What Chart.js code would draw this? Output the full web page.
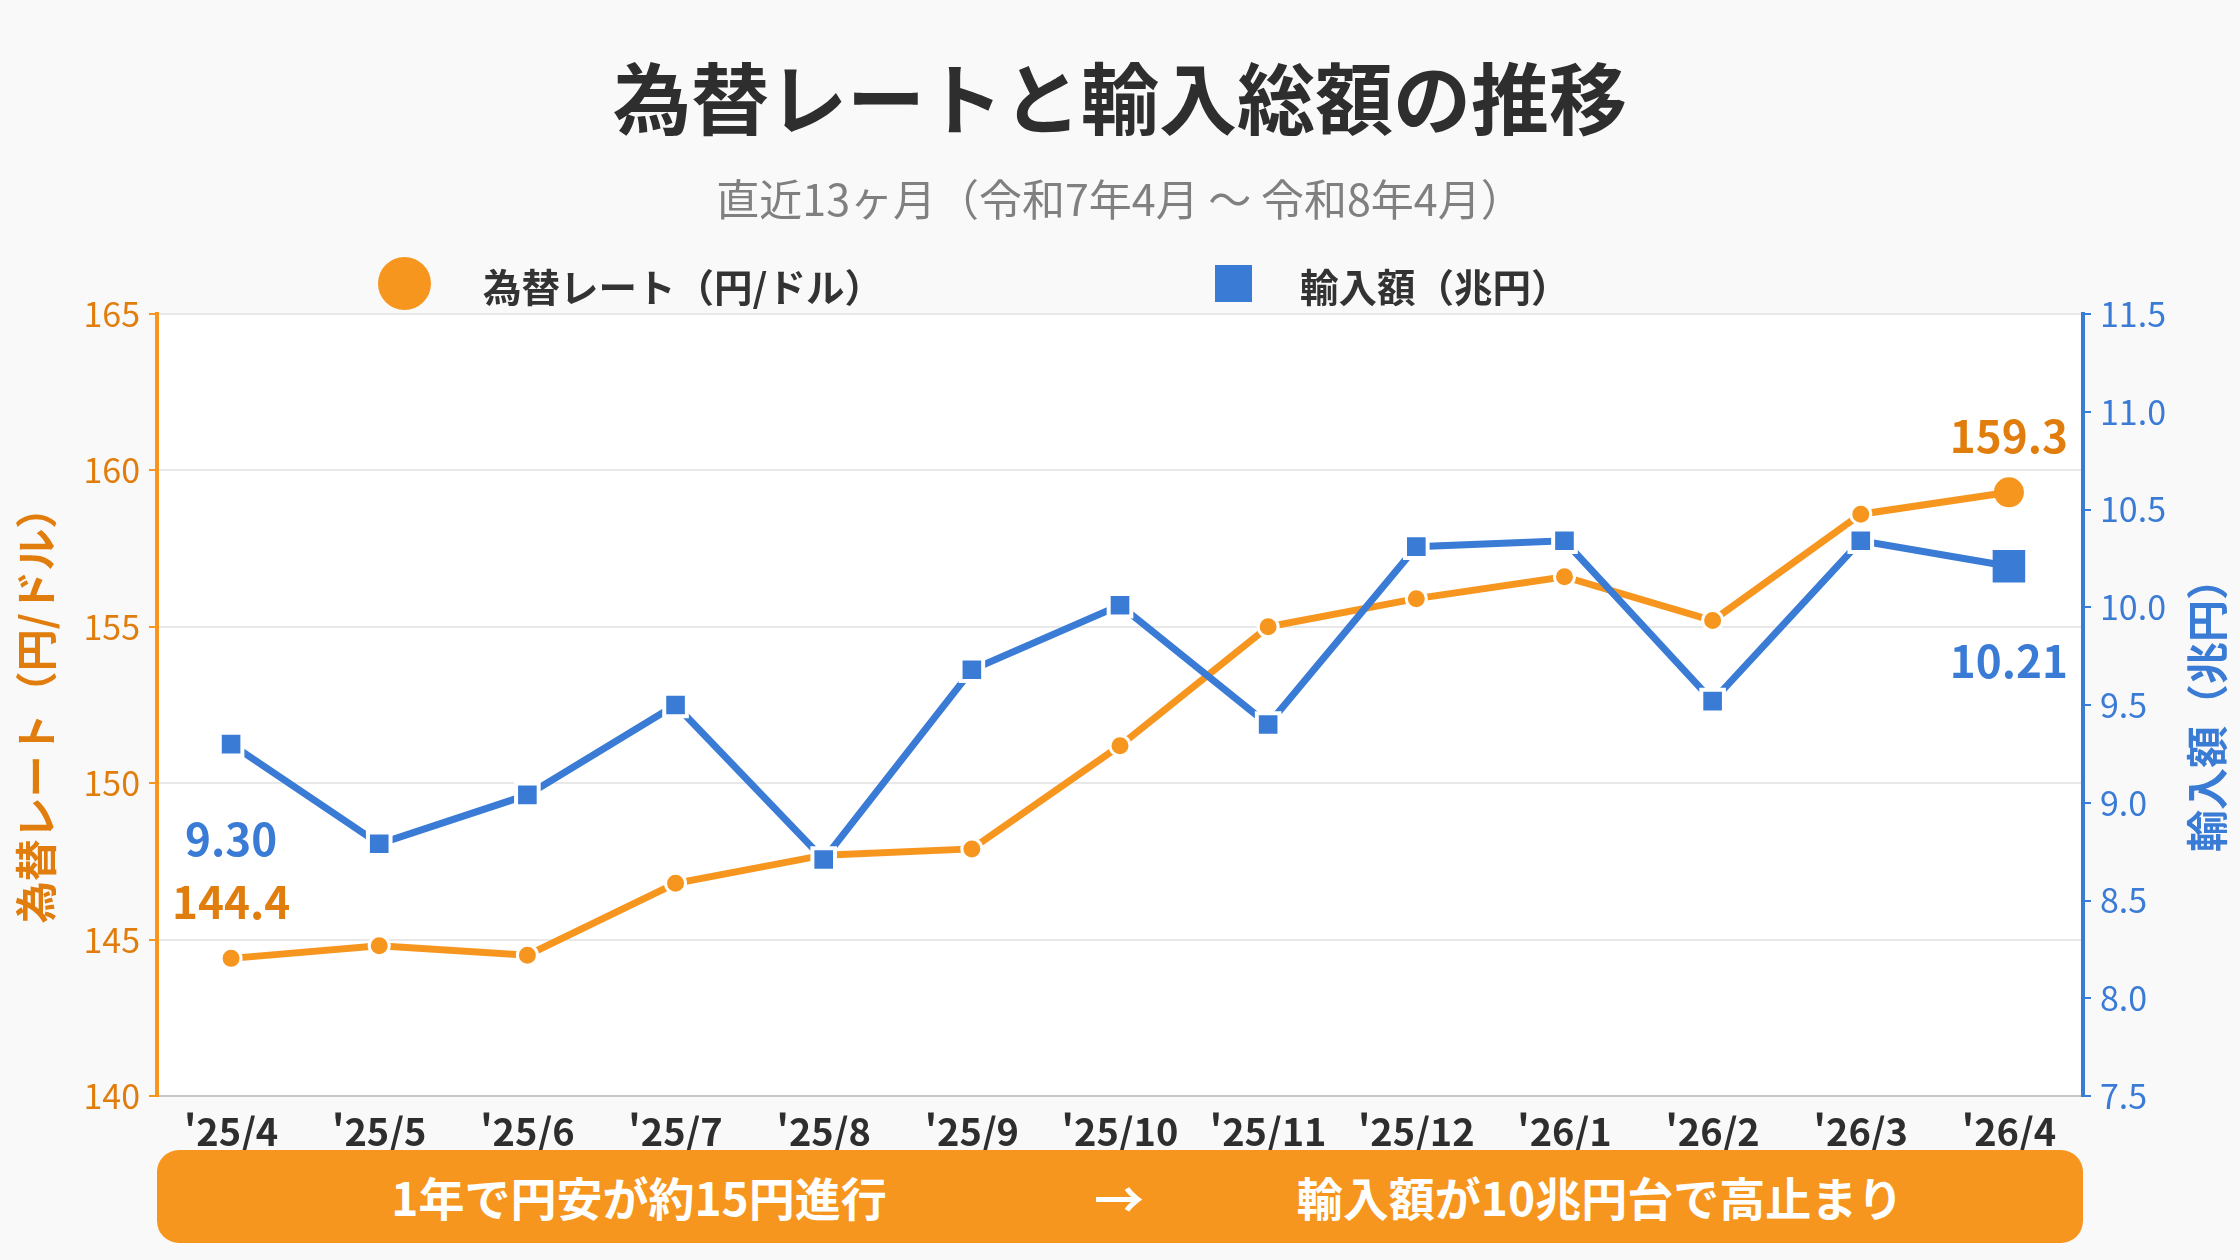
<!DOCTYPE html>
<html lang="ja">
<head>
<meta charset="utf-8">
<title>為替レートと輸入総額の推移</title>
<script src="https://cdn.jsdelivr.net/npm/chart.js@4.4.1/dist/chart.umd.min.js"></script>
<style>
  html, body {
    margin: 0;
    padding: 0;
    background: #f9f9f9;
    font-family: "Noto Sans CJK JP", "Noto Sans", sans-serif;
  }
  #wrap {
    position: relative;
    width: 2240px;
    height: 1260px;
    overflow: hidden;
  }
  #chart {
    position: absolute;
    left: 0;
    top: 0;
  }
  .title {
    position: absolute;
    left: 0;
    width: 2240px;
    top: 56px;
    text-align: center;
    font-size: 78px;
    line-height: 78px;
    font-weight: 700;
    color: #2e2e2e;
  }
  .subtitle {
    position: absolute;
    left: 0;
    width: 2240px;
    top: 176px;
    text-align: center;
    font-size: 43px;
    line-height: 43px;
    color: #808080;
  }
  .legend-item {
    position: absolute;
    top: 266px;
    height: 39px;
    font-size: 38.5px;
    line-height: 39px;
    font-weight: 700;
    color: #333;
  }
  .dot {
    position: absolute;
    left: 378px;
    top: 257px;
    width: 53px;
    height: 53px;
    border-radius: 50%;
    background: #f7961e;
  }
  .square {
    position: absolute;
    left: 1215px;
    top: 265px;
    width: 37px;
    height: 37px;
    background: #3a7bd5;
  }
  .banner {
    position: absolute;
    left: 157px;
    top: 1150px;
    width: 1926px;
    height: 93px;
    border-radius: 22px;
    background: #f7961e;
  }
  .banner span {
    position: absolute;
    top: 23px;
    font-size: 46px;
    line-height: 46px;
    font-weight: 700;
    color: #fff;
    white-space: nowrap;
    transform: translateX(-50%);
  }
</style>
</head>
<body>
<div id="wrap">
  <canvas id="chart" width="2240" height="1260"></canvas>
  <div class="title">為替レートと輸入総額の推移</div>
  <div class="subtitle">直近13ヶ月（令和7年4月 〜 令和8年4月）</div>
  <div class="dot"></div>
  <div class="legend-item" style="left:483px">為替レート（円/ドル）</div>
  <div class="square"></div>
  <div class="legend-item" style="left:1300px">輸入額（兆円）</div>
  <div class="banner">
    <span style="left:482px">1年で円安が約15円進行</span>
    <span style="left:962px;font-size:50px">→</span>
    <span style="left:1443px">輸入額が10兆円台で高止まり</span>
  </div>
</div>
<script>
const months = ["'25/4", "'25/5", "'25/6", "'25/7", "'25/8", "'25/9", "'25/10",
  "'25/11", "'25/12", "'26/1", "'26/2", "'26/3", "'26/4"];
const rateValues = [144.4, 144.8, 144.5, 146.8, 147.7, 147.9, 151.2,
  155.0, 155.9, 156.6, 155.2, 158.6, 159.3];
const importValues = [9.30, 8.79, 9.04, 9.50, 8.71, 9.68, 10.01,
  9.40, 10.31, 10.34, 9.52, 10.34, 10.21];

const ORANGE = "#f7961e";
const ORANGE_TEXT = "#e07d0c";
const BLUE = "#3a7bd5";
const last = months.length - 1;

Chart.defaults.font.family = "'Noto Sans CJK JP', 'Noto Sans', sans-serif";

// white plot area
const plotBackground = {
  id: "plotBackground",
  beforeDraw(chart) {
    const { ctx, chartArea: a } = chart;
    ctx.save();
    ctx.fillStyle = "#ffffff";
    ctx.fillRect(a.left, a.top, a.right - a.left, a.bottom - a.top);
    ctx.restore();
  },
};

// first / last value labels and right axis title (reads bottom to top)
const endLabels = {
  id: "endLabels",
  afterDatasetsDraw(chart) {
    const { ctx, chartArea: a } = chart;
    ctx.save();
    ctx.font = "bold 44px 'Noto Sans CJK JP', sans-serif";
    ctx.textAlign = "center";
    ctx.textBaseline = "middle";
    chart.data.datasets.forEach((ds, i) => {
      const meta = chart.getDatasetMeta(i);
      [0, last].forEach((idx) => {
        const pt = meta.data[idx];
        const isRate = ds.yAxisID === "y";
        ctx.fillStyle = isRate ? ORANGE_TEXT : BLUE;
        const txt = isRate ? ds.data[idx].toFixed(1) : ds.data[idx].toFixed(2);
        ctx.fillText(txt, pt.x, pt.y + (isRate ? -56 : 95));
      });
    });
    ctx.translate(2207, (a.top + a.bottom) / 2);
    ctx.rotate(-Math.PI / 2);
    ctx.font = "bold 42px 'Noto Sans CJK JP', sans-serif";
    ctx.fillStyle = BLUE;
    ctx.fillText("輸入額（兆円）", 0, 0);
    ctx.restore();
  },
};

new Chart(document.getElementById("chart"), {
  type: "line",
  data: {
    labels: months,
    datasets: [
      {
        label: "輸入額（兆円）",
        data: importValues,
        yAxisID: "y1",
        borderColor: BLUE,
        backgroundColor: BLUE,
        borderWidth: 7,
        pointStyle: "rect",
        pointRadius: importValues.map((v, i) => (i === last ? 23 : 16)),
        pointBorderColor: "#ffffff",
        pointBorderWidth: importValues.map((v, i) => (i === last ? 0 : 4)),
        tension: 0,
        order: 1,
      },
      {
        label: "為替レート（円/ドル）",
        data: rateValues,
        yAxisID: "y",
        borderColor: ORANGE,
        backgroundColor: ORANGE,
        borderWidth: 7,
        pointStyle: "circle",
        pointRadius: rateValues.map((v, i) => (i === last ? 15 : 10)),
        pointBorderColor: "#ffffff",
        pointBorderWidth: rateValues.map((v, i) => (i === last ? 0 : 3)),
        tension: 0,
        order: 2,
      },
    ],
  },
  options: {
    responsive: false,
    devicePixelRatio: 1,
    animation: false,
    layout: { padding: { top: 314, left: 0, right: 0, bottom: 0 } },
    plugins: {
      legend: { display: false },
      tooltip: { enabled: false },
    },
    scales: {
      x: {
        offset: true,
        grid: { display: true, drawOnChartArea: false, drawTicks: false },
        border: { color: "#c8c8c8", width: 2 },
        ticks: {
          color: "#2e2e2e",
          font: { size: 38, weight: "bold" },
          padding: 13,
          maxRotation: 0,
          autoSkip: false,
        },
        afterFit(scale) {
          scale.height = 164;
        },
      },
      y: {
        position: "left",
        min: 140,
        max: 165,
        ticks: {
          stepSize: 5,
          color: ORANGE_TEXT,
          font: { size: 34 },
          padding: 9,
        },
        grid: {
          color: "#e8e8e8",
          lineWidth: 2,
          tickColor: ORANGE,
          tickLength: 8,
        },
        border: { color: ORANGE, width: 4 },
        title: {
          display: true,
          text: "為替レート（円/ドル）",
          color: ORANGE_TEXT,
          font: { size: 42, weight: "bold" },
          padding: { top: 11, bottom: 0 },
        },
        afterFit(scale) {
          scale.width = 157;
        },
      },
      y1: {
        position: "right",
        min: 7.5,
        max: 11.5,
        ticks: {
          stepSize: 0.5,
          color: BLUE,
          font: { size: 34 },
          padding: 9,
          callback: (v) => Number(v).toFixed(1),
        },
        grid: {
          drawOnChartArea: false,
          tickColor: BLUE,
          tickLength: 8,
          lineWidth: 2,
        },
        border: { color: BLUE, width: 4 },
        afterFit(scale) {
          scale.width = 157;
        },
      },
    },
  },
  plugins: [plotBackground, endLabels],
});
</script>
</body>
</html>
